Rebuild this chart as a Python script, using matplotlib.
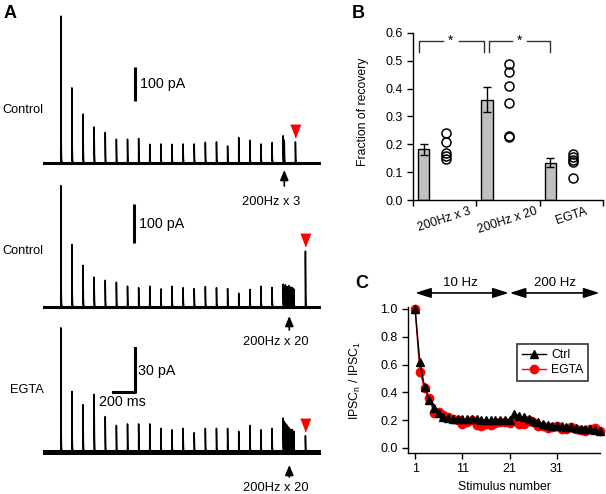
import numpy as np
import matplotlib.pyplot as plt
from matplotlib.transforms import offset_copy

plt.rcParams['font.family'] = ['Liberation Sans', 'DejaVu Sans']
plt.rcParams['mathtext.default'] = 'regular'
plt.rcParams['axes.linewidth'] = 1.0

W, H = 606, 494

# ---------------- panel A: example traces ----------------
# stimulus timing (ms)
t_first = 160
isi_10hz = 100
n_10hz = 20
t_train = 2160
isi_200hz = 5
t_test = [2270, 2360, 2360]

# peak amplitude (pA) of the 20 IPSCs evoked at 10 Hz
ctrl3_amps = [432, 221, 144, 106, 90, 70, 70, 72, 55, 56, 55, 56, 56, 61, 62, 50, 75, 67, 56, 60]
ctrl20_amps = [309, 159, 106, 76, 68, 63, 53, 49, 53, 46, 53, 49, 47, 52, 49, 47, 35, 45, 53, 50]
egta_amps = [84, 41, 32, 39, 24, 18, 19, 19, 19, 16, 15, 16, 13, 16, 16, 16, 14, 18, 15, 16]

# IPSCs during the 200 Hz train (pA)
ctrl3_train = [80, 62, 55]
ctrl20_train = [58, 44, 40, 50, 52, 42, 48, 46, 40, 48, 50, 44, 42, 47, 45, 42, 46, 44, 40, 42]
egta_train = [23, 19, 18, 17, 18, 16, 17, 15, 16, 15, 14, 15, 14, 13, 14, 13, 14, 13, 12, 13]

# recovery test IPSC (red arrowhead), pA
test_amps = [62, 142, 11]

# ---------------- panel B: fraction of recovery ----------------
b_groups = ['200Hz x 3', '200Hz x 20', 'EGTA']
b_means = [0.182, 0.36, 0.134]
b_sems = [0.019, 0.045, 0.016]
b_cells = [
    [0.24, 0.21, 0.17, 0.158, 0.146],
    [0.49, 0.46, 0.41, 0.35, 0.23, 0.228],
    [0.165, 0.155, 0.145, 0.135, 0.08],
]

# ---------------- panel C: normalised IPSC amplitude ----------------
stim_n = np.arange(1, 41)
ctrl_norm = [1.0, 0.62, 0.44, 0.345, 0.29, 0.25, 0.225, 0.213, 0.21, 0.21,
             0.205, 0.205, 0.205, 0.205, 0.2, 0.2, 0.2, 0.2, 0.2, 0.2,
             0.2, 0.245, 0.23, 0.22, 0.21, 0.195, 0.187, 0.172, 0.165, 0.16,
             0.155, 0.155, 0.15, 0.15, 0.145, 0.14, 0.14, 0.135, 0.13, 0.125]
egta_norm = [1.0, 0.55, 0.43, 0.36, 0.25, 0.26, 0.24, 0.22, 0.21, 0.2,
             0.175, 0.19, 0.2, 0.165, 0.16, 0.17, 0.165, 0.18, 0.19, 0.19,
             0.18, 0.2, 0.175, 0.17, 0.2, 0.185, 0.16, 0.155, 0.145, 0.15,
             0.16, 0.135, 0.14, 0.15, 0.14, 0.13, 0.12, 0.14, 0.145, 0.12]


def box(l, t, r, b):
    # pixel box -> figure fraction
    return [l / W, 1 - b / H, (r - l) / W, (b - t) / H]


fig = plt.figure(figsize=(W / 100, H / 100), dpi=100)

# ---- A ----
t = np.arange(0, 2500, 0.5)
tau = 2.0


def make_trace(amps, train, test_t, test_a):
    times = [t_first + i * isi_10hz for i in range(n_10hz)]
    times += [t_train + i * isi_200hz for i in range(len(train))]
    times += [test_t]
    y = np.zeros_like(t)
    for ti, a in zip(times, list(amps) + list(train) + [test_a]):
        m = t >= ti
        y[m] += a * np.exp(-(t[m] - ti) / tau)
    return y


traces = [
    (ctrl3_amps, ctrl3_train, (10, 175, 163, 0.34), 2.2),
    (ctrl20_amps, ctrl20_train, (178, 318, 307, 0.393), 2.2),
    (egta_amps, egta_train, (322, 468, 452, 1.478), 3.6),
]
axA = []
for k, (amps, train, (top, bot, base, scale), band) in enumerate(traces):
    ax = fig.add_axes(box(43, top, 321, bot))
    y = make_trace(amps, train, t_test[k], test_amps[k])
    ax.axhline(0, color='k', lw=band)
    ax.plot(t, y, color='k', lw=1.1)
    ax.set_xlim(0, 2500)
    ax.set_ylim(-(bot - base) / scale, (base - top) / scale)
    ax.axis('off')
    # red arrowhead above the test response
    tri = [(-1, 1.3), (1, 1.3), (0, -1.3)]
    ax.plot([t_test[k]], [test_amps[k]], marker=tri, ms=9, color='red', mec='red',
            transform=offset_copy(ax.transData, fig=fig, y=11, units='dots'),
            clip_on=False)
    axA.append(ax)

# stimulation arrows and labels
arrow_info = [(2170, 7, 23, 39, '200Hz x 3'),
              (2215, 9, 23, 35, '200Hz x 20'),
              (2215, 13, 25, 36, '200Hz x 20')]
for ax, (ta, d_head, d_tail, d_lab, lab) in zip(axA, arrow_info):
    ax.annotate('', xy=(ta, 0), xycoords=offset_copy(ax.transData, fig=fig, y=-d_head, units='dots'),
                xytext=(0, -(d_tail - d_head)), textcoords='offset pixels',
                arrowprops=dict(arrowstyle='-|>,head_length=0.6,head_width=0.25',
                                color='k', lw=1.2, shrinkA=0, shrinkB=0),
                annotation_clip=False)
    ax.text(ta - 120, 0, lab, fontsize=9.3, ha='center', va='center',
            transform=offset_copy(ax.transData, fig=fig, y=-d_lab, units='dots'))

# scale bars
axA[0].plot([830, 830], [182, 282], color='k', lw=2.2, solid_capstyle='butt', clip_on=False)
axA[0].text(872, 232, '100 pA', fontsize=10.3, va='center', ha='left')
axA[1].plot([820, 820], [163, 263], color='k', lw=2.2, solid_capstyle='butt', clip_on=False)
axA[1].text(862, 211, '100 pA', fontsize=10.3, va='center', ha='left')
axA[2].plot([630, 830, 830], [40.6, 40.6, 70.6], color='k', lw=2.2, clip_on=False)
axA[2].text(854, 55, '30 pA', fontsize=10.3, va='center', ha='left')
axA[2].text(504, 34, '200 ms', fontsize=10.3, va='center', ha='left')

fig.text(2 / W, 1 - 110 / H, 'Control', fontsize=9.2, va='center', ha='left')
fig.text(2 / W, 1 - 251 / H, 'Control', fontsize=9.2, va='center', ha='left')
fig.text(10 / W, 1 - 390 / H, 'EGTA', fontsize=9.2, va='center', ha='left')
fig.text(4 / W, 1 - 14 / H, 'A', fontsize=13, fontweight='bold', va='center', ha='left')

# ---- B ----
axB = fig.add_axes(box(413, 33, 603, 200))
xb = np.arange(len(b_groups))
axB.bar(xb + 0.17, b_means, 0.18, yerr=b_sems, color='#c0c0c0', edgecolor='k', lw=1,
        capsize=2.8, error_kw=dict(elinewidth=1, capthick=1), zorder=2)
for i, vals in enumerate(b_cells):
    axB.plot([i + 0.52] * len(vals), vals, 'o', mfc='none', mec='k', ms=6.5, mew=1.1,
             clip_on=False, zorder=3)
axB.set_xlim(0, 3)
axB.set_ylim(0, 0.6)
axB.set_yticks(np.arange(0, 0.61, 0.1))
axB.set_yticklabels(['%.1f' % v for v in np.arange(0, 0.61, 0.1)])
axB.set_xticks([0, 1, 2, 3])
axB.set_xticklabels([])
axB.set_xticks(xb + 0.5, minor=True)
axB.set_xticklabels(b_groups, minor=True, rotation=18, fontsize=8.8)
axB.tick_params(axis='x', which='minor', length=0, pad=4)
axB.tick_params(which='major', direction='out', length=4, width=1, labelsize=9)
axB.spines['top'].set_visible(False)
axB.spines['right'].set_visible(False)
axB.set_ylabel('Fraction of recovery', fontsize=8.8)
axB.yaxis.set_label_coords(-0.23, 0.53)

# significance brackets
for (x0, x1, xs) in [(0.1, 1.12, 0.6), (1.2, 2.16, 1.68)]:
    kw = dict(color='#333333', lw=1, clip_on=False)
    axB.plot([x0, x0, xs - 0.12], [0.53, 0.572, 0.572], **kw)
    axB.plot([xs + 0.12, x1, x1], [0.572, 0.572, 0.53], **kw)
    axB.text(xs, 0.572, '*', ha='center', va='center', fontsize=10)
fig.text(352 / W, 1 - 14 / H, 'B', fontsize=13, fontweight='bold', va='center', ha='left')

# ---- C ----
axC = fig.add_axes(box(408, 307, 600, 453))
l_egta, = axC.plot(stim_n, egta_norm, '-o', color='red', mfc='red', mec='red', ms=6, lw=1,
                   clip_on=False)
l_ctrl, = axC.plot(stim_n, ctrl_norm, '-^', color='k', ms=6, lw=1, clip_on=False)
axC.set_xlim(-0.5, 40.1)
axC.set_ylim(-0.036, 1.014)
axC.set_xticks([1, 11, 21, 31])
axC.set_yticks(np.arange(0, 1.01, 0.2))
axC.set_yticklabels(['%.1f' % v for v in np.arange(0, 1.01, 0.2)])
axC.tick_params(direction='out', length=4, width=1, labelsize=9)
axC.spines['top'].set_visible(False)
axC.spines['right'].set_visible(False)
axC.set_xlabel('Stimulus number', fontsize=8.8, labelpad=0)
axC.xaxis.set_label_coords(0.5, -0.19)
axC.set_ylabel('IPSC$_n$ / IPSC$_1$', fontsize=8.8)
axC.yaxis.set_label_coords(-0.234, 0.5)
leg = axC.legend([l_ctrl, l_egta], ['Ctrl', 'EGTA'], loc='upper left',
                 bbox_to_anchor=(0.568, 0.747), borderaxespad=0, fancybox=False,
                 edgecolor='k', fontsize=8.8, handlelength=2.0, borderpad=0.4,
                 labelspacing=0.3, handletextpad=0.4)
leg.get_frame().set_linewidth(1.2)

for (x0, x1, xl, lab) in [(1, 20.8, 10.5, '10 Hz'), (21, 40, 30.6, '200 Hz')]:
    axC.annotate('', xy=(x1, 1.115), xytext=(x0, 1.115),
                 arrowprops=dict(arrowstyle='<|-|>,head_length=0.95,head_width=0.3',
                                 color='k', lw=1.2, shrinkA=0, shrinkB=0),
                 annotation_clip=False)
    axC.text(xl, 1.187, lab, ha='center', va='center', fontsize=9.5)
fig.text(355 / W, 1 - 283 / H, 'C', fontsize=13, fontweight='bold', va='center', ha='left')

fig.savefig('out.png', dpi=100)
